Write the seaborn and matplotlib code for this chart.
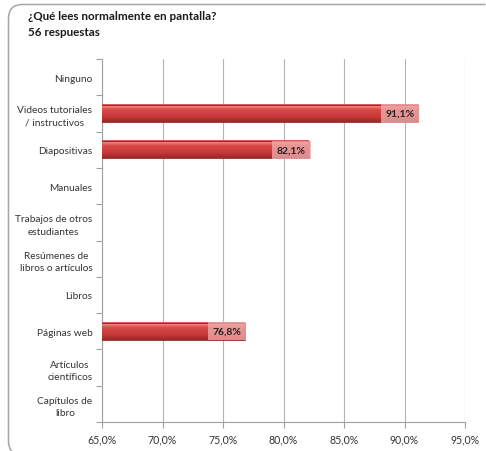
import numpy as np
import pandas as pd
import matplotlib
matplotlib.use("Agg")
import matplotlib.pyplot as plt
import seaborn as sns
from matplotlib.colors import LinearSegmentedColormap
from matplotlib.patches import PathPatch
from matplotlib.path import Path
from matplotlib.transforms import Affine2D
from matplotlib.ticker import FixedLocator

categories = ["Ninguno", "Videos tutoriales\n/ instructivos", "Diapositivas", "Manuales",
              "Trabajos de otros\nestudiantes", "Resúmenes de\nlibros o artículos", "Libros",
              "Páginas web", "Artículos\ncientíficos", "Capítulos de\nlibro"]
values = [np.nan, 91.1, 82.1, np.nan, np.nan, np.nan, np.nan, 76.8, np.nan, np.nan]
labels = ["", "91,1%", "82,1%", "", "", "", "", "76,8%", "", ""]
xticks = [65, 70, 75, 80, 85, 90, 95]
xticklabels = ["65,0%", "70,0%", "75,0%", "80,0%", "85,0%", "90,0%", "95,0%"]
title = "¿Qué lees normalmente en pantalla?\n56 respuestas"

df = pd.DataFrame({"cat": categories, "val": values})

sns.set_style("white")
plt.rcParams['font.family'] = ['Lato', 'DejaVu Sans']

W, H = 486, 452
fig = plt.figure(figsize=(W / 100, H / 100), dpi=100)
fig.patch.set_facecolor("white")
fig.patch.set_edgecolor("white")
fig.patch.set_linewidth(0)

# outer frame: top edge + left edge with rounded corners (pixel coords, y downward)
r = 14
L, T, B = 8.5, 5.5, 456
R = W - 0.5
verts = [(R, T), (L + r, T), (L, T), (L, T + r), (L, B - r), (L, B), (L + r, B)]
codes = [Path.MOVETO, Path.LINETO, Path.CURVE3, Path.CURVE3, Path.LINETO, Path.CURVE3, Path.CURVE3]
frame_path = Path(verts, codes)
to_fig = Affine2D().scale(1 / W, -1 / H).translate(0, 1) + fig.transFigure
frame = PathPatch(frame_path, transform=to_fig, fill=False, edgecolor="#A6A6A6",
                  linewidth=1.1, clip_on=False)
fig.patches.append(frame)

fig.text(28 / W, 1 - 11 / H, title, fontsize=8.4, fontweight="bold",
         va="top", ha="left", color="#1a1a1a", linespacing=1.5)

ax = fig.add_axes([102 / W, 29 / H, 363 / W, 363 / H])
sns.barplot(data=df, x="val", y="cat", orient="h", ax=ax, width=0.48,
            color="#C0392B", edgecolor="#8B1F1F", linewidth=0.6, zorder=3)

ax.set_xlim(65, 95)
ax.set_xticks(xticks)
ax.set_xticklabels(xticklabels, fontsize=7.6, color="#333333")
ax.set_xlabel("")
ax.set_ylabel("")
ax.set_yticks(range(len(categories)))
ax.set_yticklabels(categories, fontsize=7.3, color="#333333", linespacing=1.5,
                   multialignment="center")
ax.tick_params(axis="y", length=0, pad=7)
ax.yaxis.set_minor_locator(FixedLocator(np.arange(-0.5, len(categories), 1.0)))
ax.tick_params(axis="y", which="minor", length=4, color="#A0A0A0", width=0.8, left=True)
ax.tick_params(axis="x", length=4, color="#A0A0A0", width=0.8, bottom=True, pad=4)

ax.grid(axis="x", color="#B4B4B4", linewidth=0.8, zorder=0)
ax.set_axisbelow(True)
for s in ["top", "right"]:
    ax.spines[s].set_visible(False)
for s in ["left", "bottom"]:
    ax.spines[s].set_color("#A0A0A0")
    ax.spines[s].set_linewidth(0.8)

# gradient fill on bars (light highlight at top, darker at bottom)
cmap = LinearSegmentedColormap.from_list(
    "redgrad", [(0.0, "#D8504C"), (0.12, "#EE8580"), (0.3, "#D84A48"), (0.7, "#C7383A"), (1.0, "#9A2824")])
grad = np.linspace(0, 1, 64).reshape(-1, 1)
for p in ax.patches:
    w = p.get_width()
    if not np.isfinite(w) or w == 0:
        continue
    x0, y0 = p.get_x(), p.get_y()
    h = p.get_height()
    xs = max(x0, 65)
    ax.imshow(grad, extent=[xs, x0 + w, y0 + h, y0], origin="upper",
              cmap=cmap, aspect="auto", zorder=3.5, interpolation="bilinear")
    p.set_zorder(4)
    p.set_facecolor("none")

for i, (v, lab) in enumerate(zip(values, labels)):
    if lab:
        ax.text(v - 0.25, i, lab, ha="right", va="center", fontsize=7.5,
                fontweight="bold", color="#222222", zorder=6,
                bbox=dict(boxstyle="square,pad=0.45", facecolor="#EFAFAF",
                          alpha=0.75, edgecolor="none"))

ax.set_ylim(len(categories) - 0.5, -0.5)
ax.set_xlim(65, 95)

fig.savefig("out.png", dpi=100, facecolor="white", edgecolor="white")
